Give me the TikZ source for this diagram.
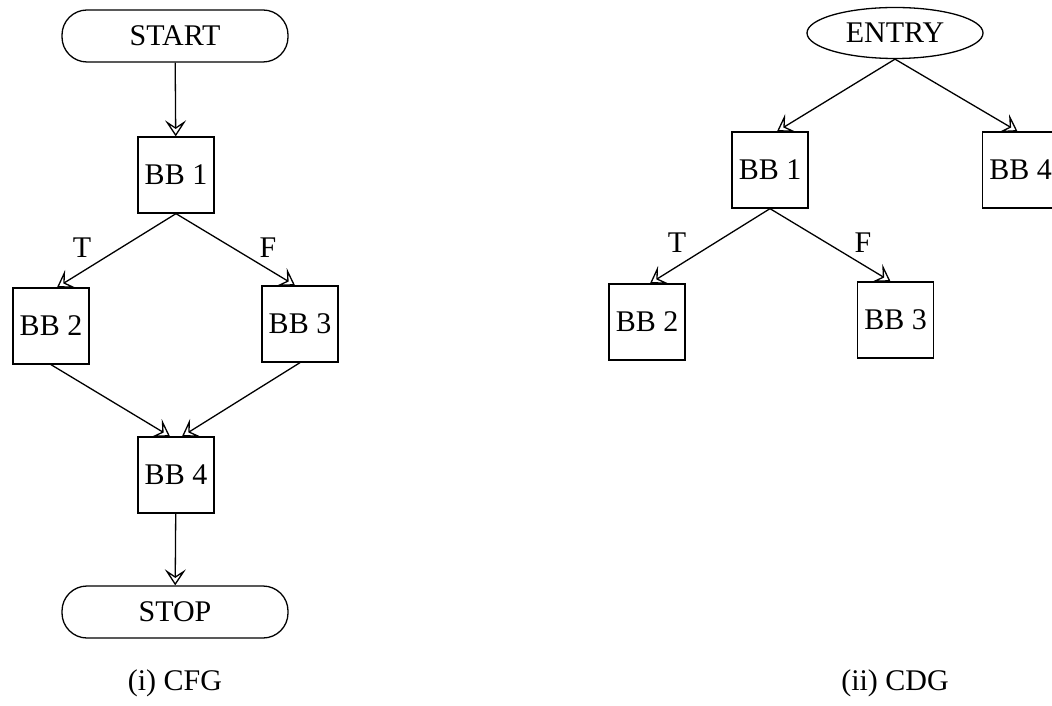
\documentclass[tikz,border=0pt]{standalone}
\usepackage{fontspec}
\setmainfont{Liberation Serif}
\usetikzlibrary{arrows.meta,shapes.geometric}
\begin{document}
\begin{tikzpicture}[x=0.5pt,y=-0.5pt,
  font=\fontsize{15}{18}\selectfont,
  line width=0.65pt,
  bb/.style={draw, rectangle, minimum width=38pt, minimum height=38pt, inner sep=0pt},
  term/.style={draw, rectangle, rounded corners=12.5pt, minimum width=113pt, minimum height=26pt, inner sep=0pt},
  entry/.style={draw, ellipse, minimum width=88pt, minimum height=25.5pt, inner sep=0pt},
  lbl/.style={inner sep=0pt},
  conn/.style={-{Stealth[open, length=8pt, width=10.5pt, inset=3.5pt]}}
]
\useasboundingbox (0,0) rectangle (1052,705);
\clip (0,0) rectangle (1052,705);
% CFG
\node[term] (start) at (175,36) {START};
\node[bb] (c1) at (176,175) {BB 1};
\node[bb] (c2) at (51,326) {BB 2};
\node[bb] (c3) at (300,324) {BB 3};
\node[bb] (c4) at (176,475) {BB 4};
\node[term] (stop) at (175,612) {STOP};
\node[lbl] (ct) at (82,248) {T};
\node[lbl] (cf) at (268,248) {F};
\node (cap1) at (175,683) {(i) CFG};
\draw[conn] (start) -- (c1);
\draw[conn] (c1.south) -- ([xshift=3pt]c2.north);
\draw[conn] (c1.south) -- ([xshift=-2.5pt]c3.north);
\draw[conn] (c2.south) -- ([xshift=-3pt]c4.north);
\draw[conn] (c3.south) -- ([xshift=3pt]c4.north);
\draw[conn] (c4) -- (stop);
% CDG
\node[entry] (entry) at (895,33) {ENTRY};
\node[bb] (d1) at (770,170) {BB 1};
\node[bb] (d4) at (1020.5,170) {BB 4};
\node[bb] (d2) at (647,322) {BB 2};
\node[bb] (d3) at (895.5,320) {BB 3};
\node[lbl] (dt) at (677,243) {T};
\node[lbl] (df) at (863,243) {F};
\node (cap2) at (895,683) {(ii) CDG};
\draw[conn] (entry.south) -- ([xshift=3.5pt]d1.north);
\draw[conn] (entry.south) -- ([xshift=-1.5pt]d4.north);
\draw[conn] (d1.south) -- ([xshift=1.5pt]d2.north);
\draw[conn] (d1.south) -- ([xshift=-2.5pt]d3.north);
\end{tikzpicture}
\end{document}
